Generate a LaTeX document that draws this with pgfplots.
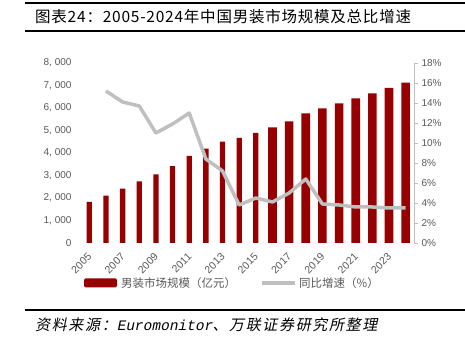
\documentclass[border=0pt]{standalone}
\usepackage{pgfplots}
\pgfplotsset{compat=1.18}
\usepackage{fontspec}
\setmainfont{Liberation Sans}
\newfontfamily\cjk{Noto Sans CJK SC}
\newfontfamily\cjktitle[LetterSpace=5]{Noto Sans CJK SC}
\newfontfamily\cjkit[FakeSlant=0.2,LetterSpace=11]{Noto Sans CJK SC}
\newfontfamily\monoit[FakeSlant=0.2]{Liberation Mono}
\definecolor{barred}{RGB}{150,0,0}
\definecolor{linegray}{RGB}{191,191,191}
\definecolor{txtgray}{RGB}{89,89,89}
\begin{document}
\begin{tikzpicture}[x=1pt,y=1pt]
\path[use as bounding box] (0,0) rectangle (465,352);
\begin{axis}[at={(81pt,109pt)}, anchor=south west, scale only axis,
  width=333pt, height=180pt,
  xmin=2004.5, xmax=2024.5, ymin=0, ymax=8000,
  axis x line*=bottom, axis y line*=left,
  x axis line style={draw=none}, y axis line style={draw=none},
  major tick length=0pt,
  xtick={2005,2007,...,2023},
  xticklabels={2005,2007,2009,2011,2013,2015,2017,2019,2021,2023},
  ytick={0,1000,...,8000},
  yticklabels={0,{1, 000},{2, 000},{3, 000},{4, 000},{5, 000},{6, 000},{7, 000},{8, 000}},
  /pgf/number format/assume math mode=true,
  tick label style={text=txtgray},
  yticklabel style={font=\fontsize{10}{10}\selectfont, xshift=-6pt},
  xticklabel style={font=\fontsize{10.5}{10.5}\selectfont, xshift=0.5pt, yshift=-12pt, rotate=45, anchor=east, inner sep=0pt},
  clip=false]
\addplot[ybar, bar width=5.3pt, bar shift=0pt, fill=barred, draw=none] coordinates {
(2005,1830) (2006,2100) (2007,2414) (2008,2741) (2009,3052) (2010,3422)
(2011,3867) (2012,4193) (2013,4504) (2014,4667) (2015,4889)};
\addplot[ybar, bar width=8.6pt, bar shift=0pt, fill=barred, draw=none] coordinates {
(2016,5141) (2017,5407) (2018,5763) (2019,5985) (2020,6207) (2021,6430)
(2022,6652) (2023,6889) (2024,7126)};
\end{axis}
\begin{axis}[at={(81pt,109pt)}, anchor=south west, scale only axis,
  width=333pt, height=180pt,
  xmin=2004.5, xmax=2024.5, ymin=0, ymax=18,
  axis x line=none, axis y line*=right,
  y axis line style={draw=linegray, line width=0.8pt},
  ytick={0,2,...,18},
  yticklabels={0\%,2\%,4\%,6\%,8\%,10\%,12\%,14\%,16\%,18\%},
  ytick style={draw=linegray, line width=0.8pt},
  tick align=outside, major tick length=4pt,
  /pgf/number format/assume math mode=true,
  yticklabel style={font=\fontsize{10}{10}\selectfont, text=txtgray, xshift=0pt},
  clip=false]
\addplot[linegray, line width=3.5pt, line join=round] coordinates {
(2006,15.2) (2007,14.1) (2008,13.7) (2009,11.0) (2010,11.9) (2011,13.0)
(2012,8.4) (2013,7.2) (2014,3.8) (2015,4.5) (2016,4.1) (2017,5.0)
(2018,6.4) (2019,3.9) (2020,3.8) (2021,3.6) (2022,3.6) (2023,3.5) (2024,3.5)};
\end{axis}
% legend
\fill[barred, rounded corners=1.5pt] (84,64.5) rectangle (117,73.5);
\node[anchor=west, text=txtgray, inner sep=0pt, font=\cjk\fontsize{11.5}{11.5}\selectfont] at (121,69) {男装市场规模（亿元）};
\draw[linegray, line width=3.5pt] (262,69) -- (295,69);
\node[anchor=west, text=txtgray, inner sep=0pt, font=\cjk\fontsize{11.5}{11.5}\selectfont] at (299,69) {同比增速（\%）};
% title
\draw[line width=1.5pt] (25,349) -- (465,349);
\draw[line width=2pt] (25,321) -- (465,321);
\node[anchor=west, inner sep=0pt, font=\cjktitle\fontsize{15.5}{15.5}\selectfont] at (35,335) {图表24：2005-2024年中国男装市场规模及总比增速};
% source
\draw[line width=1.5pt] (25,42) -- (465,42);
\node[anchor=west, inner sep=0pt, font=\cjkit\fontsize{15}{15}\selectfont] at (35,27) {资料来源：{\monoit\fontsize{14.5}{14.5}\selectfont Euromonitor}、万联证券研究所整理};
\end{tikzpicture}
\end{document}
